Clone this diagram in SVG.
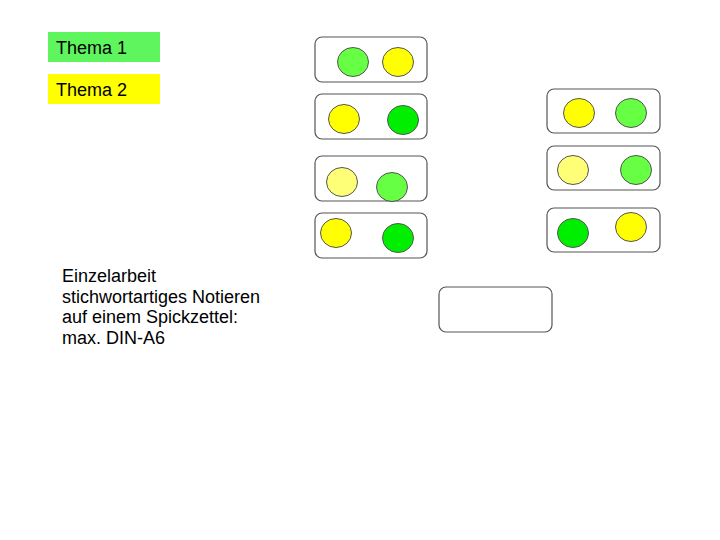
<svg xmlns="http://www.w3.org/2000/svg" width="720" height="540" viewBox="0 0 720 540">
<style>
.lbl{font-family:"Liberation Sans",Arial,sans-serif;font-size:18px;fill:#000}
.card{fill:#fff;stroke:#555;stroke-width:1.2}
.c{stroke:#555;stroke-width:1}
.y{fill:#ffff00}
.py{fill:#ffff77}
.lg{fill:#66ff44}
.bg{fill:#00ee00}
</style>
<rect width="720" height="540" fill="#fff"/>
<g id="thema1"><rect x="48" y="32" width="112" height="30" fill="#5ff55f"/><text class="lbl" x="56" y="54">Thema 1</text></g>
<g id="thema2"><rect x="48" y="74" width="112" height="30" fill="#ffff00"/><text class="lbl" x="56" y="96">Thema 2</text></g>
<g id="card1"><rect class="card" x="315" y="37" width="112" height="45" rx="7"/><ellipse class="c lg" cx="353" cy="62" rx="15.5" ry="14.5"/><ellipse class="c y" cx="398" cy="62" rx="15.5" ry="14.5"/></g>
<g id="card2"><rect class="card" x="315" y="94" width="112" height="45" rx="7"/><ellipse class="c y" cx="344" cy="119" rx="15.5" ry="14.5"/><ellipse class="c bg" cx="403" cy="120" rx="15.5" ry="14.5"/></g>
<g id="card3"><rect class="card" x="315" y="156" width="112" height="45" rx="7"/><ellipse class="c py" cx="342" cy="182" rx="15.5" ry="14.5"/><ellipse class="c lg" cx="392" cy="187" rx="15.5" ry="14.5"/></g>
<g id="card4"><rect class="card" x="315" y="213" width="112" height="45" rx="7"/><ellipse class="c y" cx="336" cy="233" rx="15.5" ry="14.5"/><ellipse class="c bg" cx="398" cy="238" rx="15.5" ry="14.5"/></g>
<g id="card5"><rect class="card" x="547" y="89" width="113" height="44" rx="7"/><ellipse class="c y" cx="579" cy="113" rx="15.5" ry="14.5"/><ellipse class="c lg" cx="631" cy="113" rx="15.5" ry="14.5"/></g>
<g id="card6"><rect class="card" x="547" y="146" width="113" height="44" rx="7"/><ellipse class="c py" cx="573" cy="170" rx="15.5" ry="14.5"/><ellipse class="c lg" cx="636" cy="170" rx="15.5" ry="14.5"/></g>
<g id="card7"><rect class="card" x="547" y="208" width="113" height="44" rx="7"/><ellipse class="c bg" cx="573" cy="233" rx="15.5" ry="14.5"/><ellipse class="c y" cx="631" cy="227" rx="15.5" ry="14.5"/></g>
<g id="empty"><rect class="card" x="439" y="287" width="113" height="45" rx="7"/></g>
<g id="note"><text class="lbl" x="62" y="282">Einzelarbeit</text><text class="lbl" x="62" y="302.5">stichwortartiges Notieren</text><text class="lbl" x="62" y="323">auf einem Spickzettel:</text><text class="lbl" x="62" y="343.5">max. DIN-A6</text></g>
<g id="connectors"/>
</svg>
